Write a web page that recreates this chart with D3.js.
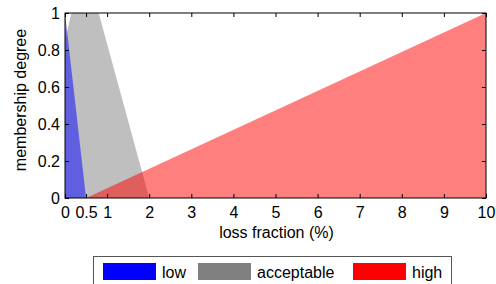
<!DOCTYPE html>
<html>
<head>
<meta charset="utf-8">
<script src="https://cdn.jsdelivr.net/npm/d3@7"></script>
<style>
  body { margin: 0; background: #fff; }
  text { font-family: "Liberation Sans", Arial, sans-serif; }
</style>
</head>
<body>
<svg id="chart" width="496" height="284"></svg>
<script>
// membership functions (loss fraction %, degree)
const lowPts = [[0, 0], [0, 1], [0.5, 0]];
const acceptablePts = [[-0.85, 0], [0.15, 1], [0.8, 1], [2, 0]];
const highPts = [[0.5, 0], [10, 1], [10, 0]];
const xTicks = [0, 0.5, 1, 2, 3, 4, 5, 6, 7, 8, 9, 10];
const yTicks = [0, 0.2, 0.4, 0.6, 0.8, 1];
const seriesNames = ['low', 'acceptable', 'high'];
const seriesColors = ['#0000ff', '#808080', '#ff0000'];

const margin = { top: 13, right: 10, bottom: 86, left: 65 },
  width = 486 - margin.left,
  height = 198 - margin.top;
const fs = 16;

const svg = d3.select('#chart');
const g = svg.append('g')
  .attr('transform', 'translate(' + margin.left + ',' + margin.top + ')');

const x = d3.scaleLinear().domain([0, 10]).range([0, width]);
const y = d3.scaleLinear().domain([0, 1]).range([height, 0]);

g.append('clipPath').attr('id', 'clip')
  .append('rect').attr('width', width).attr('height', height);

const area = d3.line().x(d => x(d[0])).y(d => y(d[1]));
const plot = g.append('g').attr('clip-path', 'url(#clip)');

// draw order: acceptable, low, high
[[acceptablePts, 1], [lowPts, 0], [highPts, 2]].forEach(([pts, i]) => {
  plot.append('path')
    .attr('d', area(pts) + 'Z')
    .attr('fill', seriesColors[i])
    .attr('fill-opacity', 0.5);
});

// axes with inward ticks
const tickLen = 4;
g.append('g').attr('transform', 'translate(0,' + height + ')')
  .call(d3.axisBottom(x).tickValues(xTicks).tickSize(-tickLen).tickPadding(9).tickFormat(d => d))
  .call(a => a.select('.domain').remove());
g.append('g')
  .call(d3.axisTop(x).tickValues(xTicks).tickSize(-tickLen).tickFormat(''))
  .call(a => a.select('.domain').remove());
g.append('g')
  .call(d3.axisLeft(y).tickValues(yTicks).tickSize(-tickLen).tickPadding(5).tickFormat(d => d))
  .call(a => a.select('.domain').remove());
g.append('g').attr('transform', 'translate(' + width + ',0)')
  .call(d3.axisRight(y).tickValues(yTicks).tickSize(-tickLen).tickFormat(''))
  .call(a => a.select('.domain').remove());

g.selectAll('.tick text').attr('font-size', fs).attr('fill', '#000')
  .style('font-family', '"Liberation Sans", Arial, sans-serif');
g.selectAll('.tick line').attr('stroke', '#000');

g.append('rect')
  .attr('width', width).attr('height', height)
  .attr('fill', 'none').attr('stroke', '#000').attr('stroke-width', 1);

// axis labels
svg.append('text')
  .attr('x', margin.left + width / 2 + 1).attr('y', 238)
  .attr('text-anchor', 'middle').attr('font-size', fs)
  .text('loss fraction (%)');
svg.append('text')
  .attr('transform', 'translate(26,100) rotate(-90)')
  .attr('text-anchor', 'middle').attr('font-size', fs)
  .text('membership degree');

// legend
const legend = svg.append('g');
legend.append('rect')
  .attr('x', 93.5).attr('y', 256.5).attr('width', 358).attr('height', 30)
  .attr('fill', '#fff').attr('stroke', '#555');
const legendX = [103, 198, 353];
seriesNames.forEach((name, i) => {
  legend.append('rect')
    .attr('x', legendX[i]).attr('y', 263).attr('width', 53).attr('height', 17)
    .attr('fill', seriesColors[i]);
  legend.append('text')
    .attr('x', legendX[i] + 59).attr('y', 278)
    .attr('font-size', fs)
    .text(name);
});
</script>
</body>
</html>
